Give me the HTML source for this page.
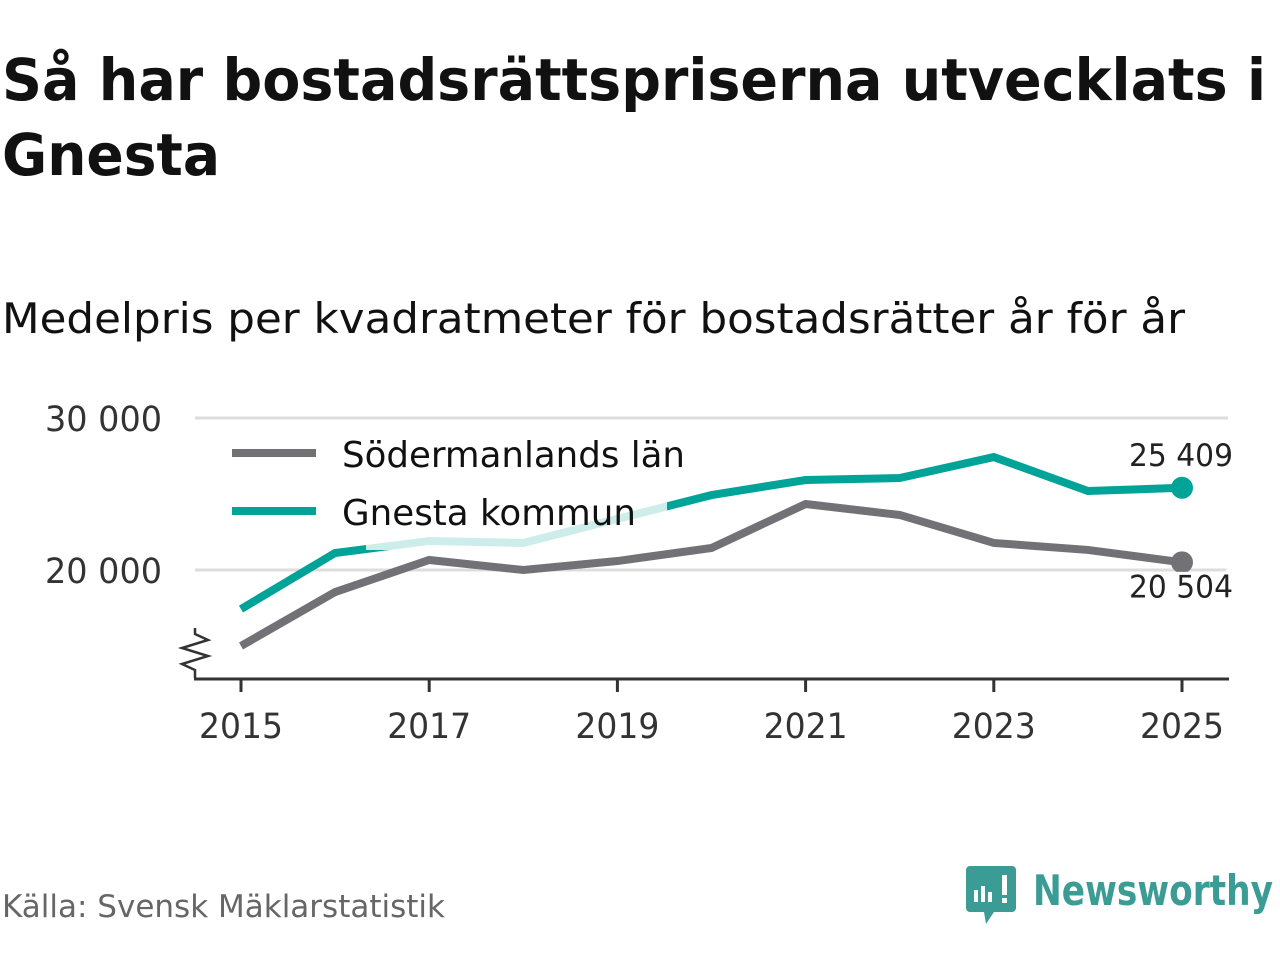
<!DOCTYPE html>
<html><head><meta charset="utf-8"><style>
body{margin:0;background:#fff;font-family:"Liberation Sans","DejaVu Sans",sans-serif;}
svg text{font-family:"DejaVu Sans","Liberation Sans",sans-serif;}
</style></head><body>
<svg id="c" width="1280" height="960" viewBox="0 0 1280 960" xmlns="http://www.w3.org/2000/svg">
<text x="2" y="100" font-size="58" font-weight="bold" fill="#111" textLength="1264" lengthAdjust="spacingAndGlyphs">Så har bostadsrättspriserna utvecklats i</text>
<text x="2" y="175" font-size="58" font-weight="bold" fill="#111" textLength="218" lengthAdjust="spacingAndGlyphs">Gnesta</text>
<text x="2" y="333" font-size="42" fill="#111" textLength="1183" lengthAdjust="spacingAndGlyphs">Medelpris per kvadratmeter för bostadsrätter år för år</text>
<g id="grid"></g><g id="axes"></g><g id="lines"></g>
<rect x="366" y="482" width="301" height="68" fill="#fff" opacity="0.8"/>
<g>
<line x1="232" y1="453" x2="316" y2="453" stroke="#727176" stroke-width="8"/>
<text x="342" y="467" font-size="36" fill="#111" textLength="343" lengthAdjust="spacingAndGlyphs">Södermanlands län</text>
<line x1="232" y1="511" x2="316" y2="511" stroke="#00a398" stroke-width="8"/>
<text x="342" y="525" font-size="36" fill="#111" textLength="294" lengthAdjust="spacingAndGlyphs">Gnesta kommun</text>
</g>
<g id="ends"></g>
<text x="2" y="917" font-size="31" fill="#666" textLength="443" lengthAdjust="spacingAndGlyphs">Källa: Svensk Mäklarstatistik</text>
<g>
<path d="M970 866 h42 a4 4 0 0 1 4 4 v38 a4 4 0 0 1 -4 4 h-18 l-8 12 l-2 -12 h-14 a4 4 0 0 1 -4 -4 v-38 a4 4 0 0 1 4 -4z" fill="#3a9c94"/>
<rect x="974" y="890" width="4" height="12" fill="#fff"/><rect x="981" y="886" width="4" height="16" fill="#fff"/><rect x="988" y="892" width="4" height="10" fill="#fff"/><rect x="1002" y="875" width="5" height="20" fill="#fff"/><rect x="1002" y="898" width="5" height="5" fill="#fff"/>
<text x="1033" y="905" font-size="42" font-weight="bold" fill="#3a9c94" textLength="240" lengthAdjust="spacingAndGlyphs">Newsworthy</text>
</g>
</svg>
<script>
const years=[2015,2016,2017,2018,2019,2020,2021,2022,2023,2024,2025];
const sodermanland=[15000,18550,20660,20000,20590,21450,24340,23620,21780,21320,20504];
const gnesta=[17430,21120,21910,21780,23360,24930,25920,26050,27430,25200,25409];
const yTicks=[20000,30000];
const yTickLabels=["20 000","30 000"];
const xTicks=[2015,2017,2019,2021,2023,2025];
const endLabels=["20 504","25 409"];
const NS='http://www.w3.org/2000/svg';
const x=v=>241+(v-2015)*94.1;
const y=v=>570-(v-20000)*0.0152;
function mk(t,a,p){const e=document.createElementNS(NS,t);for(const k in a)e.setAttribute(k,a[k]);p.appendChild(e);return e;}
const grid=document.getElementById('grid'),axes=document.getElementById('axes'),lines=document.getElementById('lines'),ends=document.getElementById('ends');
yTicks.forEach((t,i)=>{
 const l=mk('line',{x1:195,x2:1228,y1:y(t),y2:y(t),stroke:'#ddd','stroke-width':3},grid);
 
 
 const tx=mk('text',{x:162,y:y(t)+13,'font-size':35,fill:'#333','text-anchor':'end',textLength:117,lengthAdjust:'spacingAndGlyphs'},grid);
 tx.textContent=yTickLabels[i];
 
 
});
const ax=mk('line',{x1:194,x2:1229,y1:679,y2:679,stroke:'#333','stroke-width':3},axes);


const br=mk('polyline',{points:'195,678 195,670 182,664 208,656 182,648 208,640 195,634 195,628',fill:'none',stroke:'#333','stroke-width':2.5},axes);


xTicks.forEach(t=>{
 const l=mk('line',{x1:x(t),x2:x(t),y1:679,y2:692,stroke:'#333','stroke-width':3},axes);
 
 
 const tx=mk('text',{x:x(t),y:738,'font-size':35,fill:'#333','text-anchor':'middle',textLength:84,lengthAdjust:'spacingAndGlyphs'},axes);
 tx.textContent=t;
 
 
});
[[sodermanland,'#727176','sodermanland',20],[gnesta,'#00a398','gnesta',-22]].forEach(([d,c,n,dy],i)=>{
 const p=mk('polyline',{points:d.map((v,j)=>x(years[j])+','+y(v)).join(' '),fill:'none',stroke:c,'stroke-width':8,'stroke-linejoin':'miter'},lines);
 
 
 const last=d.length-1;
 const dot=mk('circle',{cx:x(years[last]),cy:y(d[last]),r:11,fill:c},ends);
 
 
 const tx=mk('text',{x:1181,y:y(d[last])+dy+(dy>0?15:0),'font-size':31,fill:'#222','text-anchor':'middle',stroke:'#fff','stroke-width':6,'paint-order':'stroke',textLength:104,lengthAdjust:'spacingAndGlyphs'},ends);
 tx.textContent=endLabels[i];
 
 
});
</script>
</body></html>
